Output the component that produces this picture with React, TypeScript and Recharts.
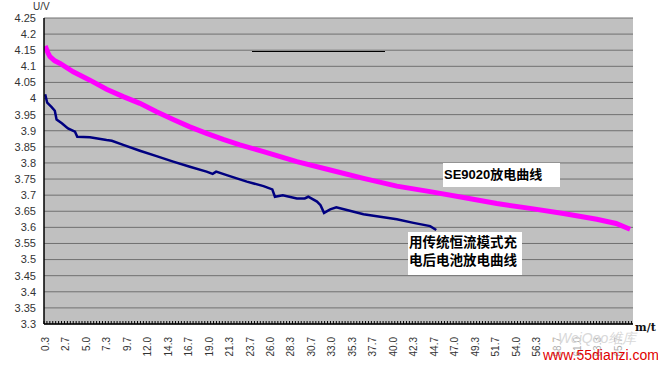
import React from 'react';
import { LineChart, Line, XAxis, YAxis, CartesianGrid } from 'recharts';

// SE9020 discharge curve (time in minutes, voltage in V)
const seTimes = [0.3, 0.65, 0.85, 1.4, 2.0, 3.5, 5.4, 7.3, 9.2, 11.1, 13.0, 14.9, 16.8, 18.7, 20.6, 22.5, 25.2, 29.0, 32.8, 36.6, 40.4, 44.2, 48.0, 51.8, 55.6, 59.4, 63.2, 65.4, 67.0];
const seVolts = [4.163, 4.140, 4.130, 4.117, 4.109, 4.083, 4.057, 4.029, 4.006, 3.985, 3.959, 3.935, 3.912, 3.892, 3.873, 3.856, 3.835, 3.804, 3.778, 3.752, 3.728, 3.711, 3.693, 3.674, 3.659, 3.643, 3.625, 3.612, 3.594];

// Constant-current charged battery discharge curve
const ccTimes = [0.3, 0.53, 1.04, 1.4, 1.6, 2.2, 2.9, 3.7, 3.96, 5.4, 7.3, 7.9, 9.2, 11.1, 13.0, 14.9, 16.8, 18.7, 19.4, 19.8, 21.0, 22.5, 23.3, 25.2, 26.2, 26.5, 27.4, 29.0, 29.9, 30.3, 31.3, 31.7, 32.1, 32.8, 33.5, 34.7, 36.6, 38.5, 40.4, 42.3, 44.2, 44.9];
const ccVolts = [4.013, 3.987, 3.973, 3.962, 3.935, 3.923, 3.907, 3.897, 3.881, 3.880, 3.871, 3.869, 3.856, 3.838, 3.821, 3.804, 3.788, 3.773, 3.766, 3.773, 3.762, 3.749, 3.742, 3.728, 3.718, 3.695, 3.700, 3.690, 3.690, 3.695, 3.680, 3.669, 3.645, 3.656, 3.662, 3.654, 3.641, 3.633, 3.625, 3.614, 3.604, 3.592];

const xTickLabels = ['0.3', '2.7', '5.0', '7.3', '9.7', '12.0', '14.3', '16.7', '19.0', '21.3', '23.7', '26.0', '28.3', '30.7', '33.0', '35.3', '37.7', '40.0', '42.3', '44.7', '47.0', '49.3', '51.7', '54.0', '56.3', '58.7', '61.0', '63.3', '65.7'];
const yTickLabels = [3.3, 3.35, 3.4, 3.45, 3.5, 3.55, 3.6, 3.65, 3.7, 3.75, 3.8, 3.85, 3.9, 3.95, 4.0, 4.05, 4.1, 4.15, 4.2, 4.25];

const seData = seTimes.map((t, i) => ({ t, v: seVolts[i] }));
const ccData = ccTimes.map((t, i) => ({ t, v: ccVolts[i] }));

// sampling grid of the recorder: one sample every 20 s (1/3 min), labels every 7th sample
const X_DOMAIN: [number, number] = [0.1667, 67.3333];
const sampleTicks = Array.from({ length: 202 }, (_, k) => (k + 1) / 3);
const HALF_STEP_PX = 1.46;

const FONT = '"Liberation Sans", Arial, sans-serif';
const CJK = '"Liberation Sans", Arial, "Noto Sans CJK SC", sans-serif';
const TICK_MARGIN = 13;

const XTick = (props: any) => {
  const { x, y, index } = props;
  const axisY = y - TICK_MARGIN;
  const label = index % 7 === 0 ? xTickLabels[index / 7] : null;
  return (
    <g>
      <line x1={x - HALF_STEP_PX} x2={x - HALF_STEP_PX} y1={axisY} y2={axisY - 3} stroke="#000" strokeWidth={1} />
      {label != null && (
        <text
          x={x}
          y={y}
          transform={`rotate(-90 ${x} ${y})`}
          textAnchor="end"
          dominantBaseline="central"
          fontSize={10}
          fill="#333"
          fontFamily={FONT}
        >
          {label}
        </text>
      )}
    </g>
  );
};

export default function App() {
  return (
    <div style={{ position: 'absolute', left: 0, top: 0, width: 658, height: 367, background: '#fff', overflow: 'hidden' }}>
      <LineChart width={658} height={367} margin={{ top: 18, right: 25, bottom: 0, left: 0 }}>
        <CartesianGrid vertical={false} stroke="#707070" fill="#c0c0c0" />
        <XAxis
          dataKey="t"
          type="number"
          domain={X_DOMAIN}
          allowDataOverflow
          ticks={sampleTicks}
          interval={0}
          height={43}
          tickSize={0}
          tickMargin={TICK_MARGIN}
          tickLine={false}
          axisLine={{ stroke: '#000', strokeWidth: 1.5 }}
          tick={<XTick />}
        />
        <YAxis
          type="number"
          domain={[3.3, 4.25]}
          allowDataOverflow
          ticks={yTickLabels}
          interval={0}
          width={44}
          tickLine={false}
          tickSize={6}
          tickMargin={2}
          axisLine={{ stroke: '#000', strokeWidth: 1.5 }}
          tick={{ fontSize: 11, fill: '#333', fontFamily: FONT }}
          tickFormatter={(v: number) => String(parseFloat(v.toFixed(2)))}
        />
        <Line
          data={seData}
          dataKey="v"
          type="linear"
          stroke="#ff00ff"
          strokeWidth={5}
          dot={false}
          isAnimationActive={false}
        />
        <Line
          data={ccData}
          dataKey="v"
          type="linear"
          stroke="#000080"
          strokeWidth={2.5}
          dot={false}
          isAnimationActive={false}
        />
      </LineChart>

      <div style={{ position: 'absolute', left: 33, top: 1, fontSize: 10, fontFamily: FONT, color: '#333' }}>U/V</div>
      <div style={{ position: 'absolute', left: 635, top: 321, fontSize: 11, fontFamily: '"DejaVu Serif", serif', fontWeight: 'bold', color: '#111' }}>m/t</div>

      <div style={{ position: 'absolute', left: 252, top: 51, width: 133, height: 0, borderTop: '1.5px solid #000' }} />

      <div style={{ position: 'absolute', left: 443, top: 163, width: 117, height: 24, background: '#fff', fontFamily: CJK, fontWeight: 'bold', fontSize: 13, color: '#000', lineHeight: '24px', paddingLeft: 1, boxSizing: 'border-box', whiteSpace: 'nowrap' }}>
        SE9020放电曲线
      </div>
      <div style={{ position: 'absolute', left: 408, top: 232, width: 114, height: 43, background: '#fff', fontFamily: CJK, fontWeight: 'bold', fontSize: 13.5, color: '#000', lineHeight: '18px', paddingTop: 2, paddingLeft: 1, boxSizing: 'border-box', whiteSpace: 'nowrap' }}>
        <div>用传统恒流模式充</div>
        <div>电后电池放电曲线</div>
      </div>

      <div style={{ position: 'absolute', left: 553, top: 335, width: 92, height: 28, background: 'rgba(255,255,255,0.6)' }} />
      <div style={{ position: 'absolute', left: 558, top: 330, fontSize: 14, lineHeight: '16px', fontFamily: FONT, fontStyle: 'italic', color: '#d8d8d8', whiteSpace: 'nowrap' }}>WeiQoo维库</div>
      <div style={{ position: 'absolute', left: 543, top: 347, fontSize: 14, lineHeight: '16px', fontFamily: FONT, color: '#e00000', whiteSpace: 'nowrap' }}>www.55dianzi.com</div>
    </div>
  );
}
